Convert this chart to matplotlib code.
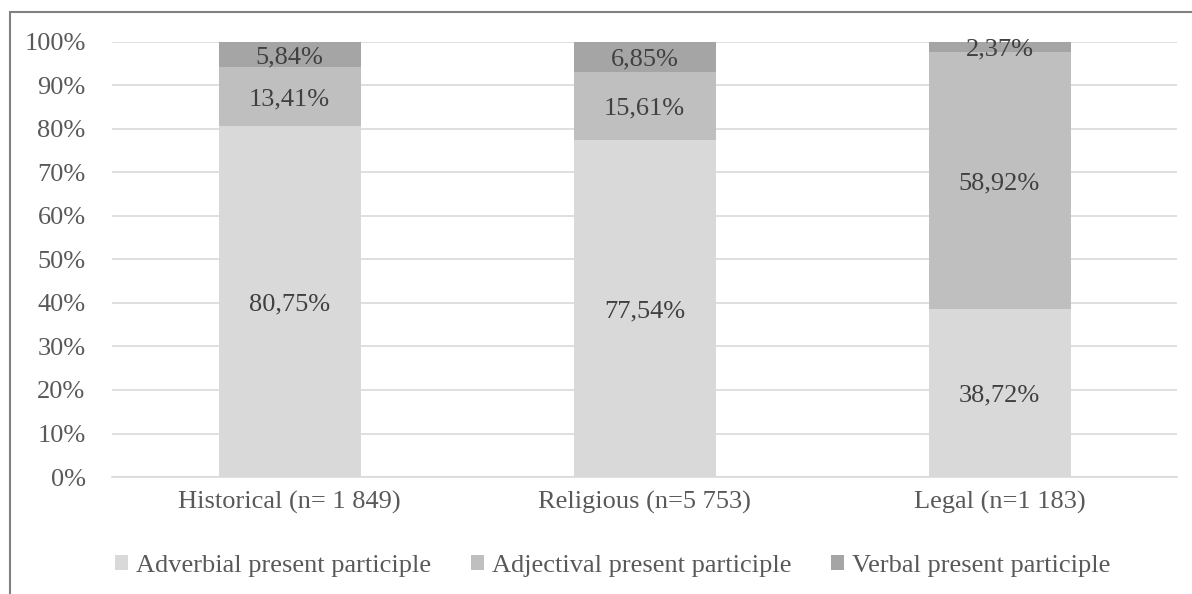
import matplotlib
matplotlib.use("Agg")
import matplotlib.pyplot as plt
from matplotlib.patches import Rectangle
import numpy as np

categories = ["Historical (n= 1 849)", "Religious (n=5 753)", "Legal (n=1 183)"]
series_names = ["Adverbial present participle", "Adjectival present participle", "Verbal present participle"]
adverbial = [80.75, 77.54, 38.72]
adjectival = [13.41, 15.61, 58.92]
verbal = [5.84, 6.85, 2.37]
colors = ["#d9d9d9", "#bfbfbf", "#a5a5a5"]
yticks = [0, 10, 20, 30, 40, 50, 60, 70, 80, 90, 100]

plt.rcParams['font.family'] = ['Liberation Serif', 'DejaVu Serif']
FS = 19

W, H = 1192, 594
fig = plt.figure(figsize=(W/100, H/100), dpi=100)
ax = fig.add_axes([112/W, 1-477/H, (1177-112)/W, (477-42)/H])

x = np.arange(len(categories))
bottom = np.zeros(len(categories))
for vals, name, c in zip([adverbial, adjectival, verbal], series_names, colors):
    ax.bar(x, vals, 0.4, bottom=bottom, color=c, label=name, zorder=2)
    for xi, v, b in zip(x, vals, bottom):
        ax.annotate(f"{v:.2f}%".replace(".", ","), (xi, b + v/2), xytext=(0, -2),
                    textcoords="offset points", ha="center", va="center",
                    fontsize=FS, color="#404040", zorder=3)
    bottom += np.array(vals)

ax.set_xlim(-0.5, len(categories) - 0.5)
ax.set_ylim(0, 100)
ax.set_yticks(yticks)
ax.set_yticklabels([f"{t}%" for t in yticks])
ax.set_xticks(x)
ax.set_xticklabels(categories)
ax.tick_params(axis='both', length=0, labelsize=FS, labelcolor="#595959")
ax.tick_params(axis='y', pad=19)
ax.tick_params(axis='x', pad=10)
ax.grid(axis='y', color="#d9d9d9", linewidth=1.2, zorder=0)
for s in ["top", "right", "left"]:
    ax.spines[s].set_visible(False)
ax.spines["bottom"].set_color("#d9d9d9")
ax.spines["bottom"].set_linewidth(1.2)

leg = fig.legend(loc="center", bbox_to_anchor=(613/W, 1-566/H), ncol=3, frameon=False,
                 fontsize=FS, handlelength=0.5, handleheight=0.5, handletextpad=0.3,
                 columnspacing=1.5, labelcolor="#595959")

fig.patches.append(Rectangle((10/W, -0.1), 1.2, 1-12/H+0.1, transform=fig.transFigure,
                             fill=False, edgecolor="#808080", linewidth=1.5))

fig.savefig("out.png", dpi=100)
